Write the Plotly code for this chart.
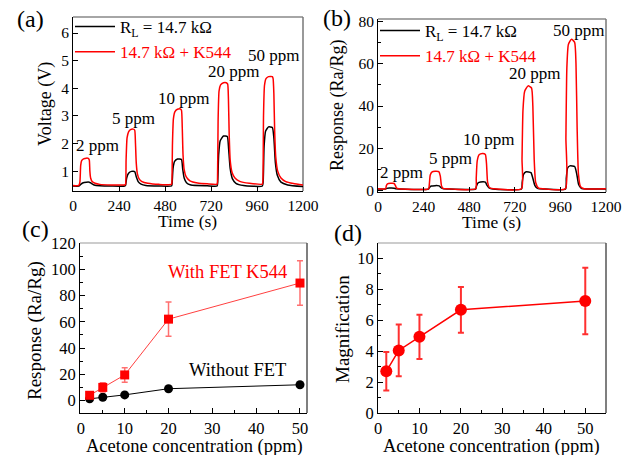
import plotly.graph_objects as go

FONT = "Liberation Serif, Times New Roman, serif"

# ---------------- Panel (a): voltage vs time ----------------
a_red_t = [0, 30, 36, 40, 45, 55, 70, 80, 85, 88, 92, 100, 115, 140, 200, 270,
           274, 277, 282, 290, 300, 315, 322, 326, 330, 336, 345, 360, 390, 450, 514,
           516, 519, 524, 532, 545, 560, 566, 570, 574, 580, 590, 610, 650, 700, 752,
           754, 757, 762, 770, 785, 800, 807, 811, 815, 820, 830, 845, 870, 920, 988,
           991, 994, 999, 1007, 1020, 1040, 1044, 1048, 1052, 1058, 1068, 1085, 1110, 1150, 1200]
a_red_v = [0.48, 0.48, 0.6, 1.2, 1.38, 1.44, 1.47, 1.46, 1.4, 1.0, 0.75, 0.62, 0.56, 0.52, 0.5, 0.5,
           0.52, 1.4, 2.2, 2.42, 2.5, 2.52, 2.48, 2.0, 1.3, 0.9, 0.72, 0.62, 0.56, 0.52, 0.52,
           0.6, 2.0, 2.9, 3.15, 3.24, 3.25, 3.2, 2.6, 1.6, 1.05, 0.8, 0.65, 0.57, 0.54, 0.53,
           0.7, 2.8, 3.9, 4.12, 4.2, 4.2, 4.15, 3.6, 2.3, 1.4, 0.95, 0.75, 0.63, 0.56, 0.53,
           0.7, 3.0, 4.1, 4.35, 4.42, 4.42, 4.35, 3.8, 2.5, 1.5, 1.0, 0.75, 0.62, 0.55, 0.5]
a_blk_t = [0, 30, 40, 50, 70, 85, 95, 110, 140, 270,
           274, 280, 290, 305, 322, 330, 340, 355, 380, 450, 514,
           517, 522, 530, 545, 566, 572, 580, 592, 615, 700, 752,
           755, 760, 768, 785, 805, 812, 820, 832, 850, 890, 988,
           992, 997, 1005, 1020, 1040, 1048, 1056, 1066, 1085, 1120, 1200]
a_blk_v = [0.46, 0.46, 0.52, 0.57, 0.6, 0.6, 0.56, 0.5, 0.47, 0.46,
           0.48, 0.75, 0.92, 0.99, 0.98, 0.8, 0.62, 0.53, 0.48, 0.46, 0.46,
           0.55, 1.1, 1.35, 1.44, 1.42, 1.1, 0.75, 0.58, 0.5, 0.47, 0.46,
           0.6, 1.6, 2.1, 2.27, 2.25, 1.8, 1.1, 0.72, 0.56, 0.48, 0.46,
           0.6, 1.9, 2.45, 2.6, 2.58, 2.2, 1.3, 0.85, 0.6, 0.5, 0.44]

# ---------------- Panel (b): response vs time ----------------
b_red_t = [0, 40, 44, 50, 65, 85, 92, 98, 110, 266,
           270, 275, 285, 300, 320, 328, 334, 342, 360, 514,
           517, 522, 532, 550, 565, 571, 577, 587, 610, 755,
           758, 763, 772, 790, 808, 815, 822, 830, 845, 870, 986,
           989, 994, 1002, 1018, 1035, 1042, 1048, 1055, 1066, 1085, 1200]
b_red_v = [1.0, 1.0, 2.5, 3.3, 3.6, 3.5, 2.5, 1.3, 1.0, 1.0,
           3.0, 7.5, 9.0, 9.3, 9.1, 7.0, 2.5, 1.2, 1.0, 1.0,
           6.0, 14.0, 17.0, 17.6, 17.2, 13.0, 4.0, 1.5, 1.0, 1.0,
           15.0, 38.0, 47.0, 49.5, 48.5, 40.0, 15.0, 4.0, 1.3, 1.0, 1.0,
           25.0, 58.0, 69.0, 71.5, 70.0, 60.0, 30.0, 8.0, 2.0, 1.0, 1.0]
b_blk_t = [0, 40, 46, 60, 85, 95, 110, 266,
           270, 280, 300, 322, 332, 345, 365, 514,
           518, 526, 540, 565, 574, 586, 605, 755,
           759, 766, 780, 805, 815, 826, 840, 870, 987,
           991, 998, 1010, 1035, 1046, 1056, 1070, 1100, 1200]
b_blk_v = [0.9, 0.9, 1.2, 1.35, 1.3, 1.0, 0.9, 0.9,
           1.5, 2.3, 2.5, 2.4, 1.5, 1.0, 0.9, 0.9,
           2.2, 3.7, 4.2, 4.1, 2.6, 1.3, 0.95, 0.9,
           4.0, 7.8, 9.0, 8.6, 6.0, 2.5, 1.2, 0.9, 0.9,
           6.0, 10.8, 11.8, 11.5, 8.0, 3.0, 1.2, 0.9, 0.9]

ppm_labels = ["2 ppm", "5 ppm", "10 ppm", "20 ppm", "50 ppm"]
a_lab_t = [126, 314, 576, 838, 1048]
a_lab_v = [1.94, 2.92, 3.64, 4.59, 5.2]
b_lab_t = [122, 379, 584, 826, 1053]
b_lab_v = [8.5, 15.5, 24, 55.5, 75.8]

# ---------------- Panel (c) & (d) ----------------
conc = [2, 5, 10, 20, 50]
resp_fet = [4.0, 10.0, 19.5, 62.0, 89.5]
resp_fet_err = [1.5, 3.5, 5.5, 13.0, 17.0]
resp_nofet = [1.3, 2.5, 4.3, 9.0, 12.0]
resp_nofet_err = [0.4, 0.5, 0.8, 1.0, 1.0]
magnif = [2.7, 4.05, 4.93, 6.68, 7.25]
magnif_err = [1.25, 1.68, 1.43, 1.48, 2.15]

RED = "#ff0000"
fig = go.Figure()

fig.add_trace(go.Scatter(x=a_blk_t, y=a_blk_v, mode="lines", name="R<sub>L</sub> = 14.7 kΩ",
                         line=dict(color="black", width=1.5, shape="spline", smoothing=0.5),
                         xaxis="x", yaxis="y", legend="legend"))
fig.add_trace(go.Scatter(x=a_red_t, y=a_red_v, mode="lines",
                         name="<span style='color:#ff0000'>14.7 kΩ + K544</span>",
                         line=dict(color=RED, width=1.5, shape="spline", smoothing=0.5),
                         xaxis="x", yaxis="y", legend="legend"))
fig.add_trace(go.Scatter(x=b_blk_t, y=b_blk_v, mode="lines", name="R<sub>L</sub> = 14.7 kΩ",
                         line=dict(color="black", width=1.5, shape="spline", smoothing=0.5),
                         xaxis="x2", yaxis="y2", legend="legend2"))
fig.add_trace(go.Scatter(x=b_red_t, y=b_red_v, mode="lines",
                         name="<span style='color:#ff0000'>14.7 kΩ + K544</span>",
                         line=dict(color=RED, width=1.5, shape="spline", smoothing=0.5),
                         xaxis="x2", yaxis="y2", legend="legend2"))

fig.add_trace(go.Scatter(x=conc, y=resp_nofet, mode="lines+markers", showlegend=False,
                         line=dict(color="black", width=1),
                         marker=dict(symbol="circle", size=9, color="black"),
                         error_y=dict(type="data", array=resp_nofet_err, color="black", thickness=1, width=3),
                         xaxis="x3", yaxis="y3"))
fig.add_trace(go.Scatter(x=conc, y=resp_fet, mode="lines+markers", showlegend=False,
                         line=dict(color="#ff4040", width=1),
                         marker=dict(symbol="square", size=9, color=RED),
                         error_y=dict(type="data", array=resp_fet_err, color="#ff7070", thickness=1.5, width=3),
                         xaxis="x3", yaxis="y3"))
fig.add_trace(go.Scatter(x=conc, y=magnif, mode="lines+markers", showlegend=False,
                         line=dict(color=RED, width=1.5),
                         marker=dict(symbol="circle", size=12, color=RED),
                         error_y=dict(type="data", array=magnif_err, color="#ff3030", thickness=2, width=3),
                         xaxis="x4", yaxis="y4"))

def ax(domain, rng, dtick, tsize, anchor, tickvals=None):
    d = dict(domain=domain, range=rng, showline=True, linecolor="black", linewidth=1,
             ticks="inside", ticklen=5, tickwidth=1, tickcolor="black",
             showgrid=False, zeroline=False, anchor=anchor, automargin=False,
             tickfont=dict(family=FONT, size=tsize, color="black"),
             minor=dict(ticks="inside", ticklen=3, tickcolor="black", nticks=2))
    if tickvals is not None:
        d["tickmode"] = "array"
        d["tickvals"] = tickvals
    else:
        d["dtick"] = dtick
        d["tick0"] = 0
    return d

W, H = 634, 455
def px(x0, x1):
    return [x0 / W, x1 / W]
def py(top, bottom):
    return [1 - bottom / H, 1 - top / H]

fig.update_layout(
    width=W, height=H, margin=dict(l=0, r=0, t=0, b=0, autoexpand=False),
    paper_bgcolor="white", plot_bgcolor="white",
    font=dict(family=FONT, color="black"),
    xaxis=ax(px(73, 303), [0, 1200], 240, 15.5, "y"),
    yaxis=ax(py(17, 191), [0.28, 6.58], 1, 15.5, "x", tickvals=[1, 2, 3, 4, 5, 6]),
    xaxis2=ax(px(378, 606), [0, 1200], 240, 15.5, "y2"),
    yaxis2=ax(py(19, 192), [-0.5, 81], 20, 15.5, "x2"),
    xaxis3=ax(px(80, 307), [-0.2, 51.6], 10, 16.5, "y3"),
    yaxis3=ax(py(243, 413), [-9.5, 120], 20, 16.5, "x3"),
    xaxis4=ax(px(378, 606), [0, 55], 10, 16.5, "y4"),
    yaxis4=ax(py(243, 413), [0, 11], 2, 16.5, "x4"),
    legend=dict(x=70 / W, y=1 - 9 / H, xanchor="left", yanchor="top", bgcolor="rgba(0,0,0,0)",
                font=dict(family=FONT, size=17, color="black"), tracegroupgap=0, itemwidth=40),
    legend2=dict(x=375 / W, y=1 - 13 / H, xanchor="left", yanchor="top", bgcolor="rgba(0,0,0,0)",
                 font=dict(family=FONT, size=17, color="black"), tracegroupgap=0, itemwidth=40),
)

# top/right frame lines
for xr, yr, topc, rightc in [("x", "y", "#888888", "#777777"), ("x2", "y2", "#888888", "#777777"),
                              ("x3", "y3", "#bbbbbb", "#555555"), ("x4", "y4", "#bbbbbb", "#555555")]:
    fig.add_shape(type="line", xref=f"{xr} domain", yref=f"{yr} domain", x0=0, x1=1, y0=1, y1=1,
                  line=dict(color=topc, width=1.5), layer="below")
    fig.add_shape(type="line", xref=f"{xr} domain", yref=f"{yr} domain", x0=1, x1=1, y0=0, y1=1,
                  line=dict(color=rightc, width=1.5), layer="below")

for lab, t, v in zip(ppm_labels, a_lab_t, a_lab_v):
    fig.add_annotation(x=t, y=v, xref="x", yref="y", text=lab, showarrow=False,
                       font=dict(family=FONT, size=17, color="black"))
for lab, t, v in zip(ppm_labels, b_lab_t, b_lab_v):
    fig.add_annotation(x=t, y=v, xref="x2", yref="y2", text=lab, showarrow=False,
                       font=dict(family=FONT, size=17, color="black"))

fig.add_annotation(x=33.5, y=98, xref="x3", yref="y3", text="With FET K544", showarrow=False,
                   font=dict(family=FONT, size=18.5, color=RED))
fig.add_annotation(x=35.7, y=23, xref="x3", yref="y3", text="Without FET", showarrow=False,
                   font=dict(family=FONT, size=18.5, color="black"))

# axis titles (placed as paper annotations for exact positioning)
axis_titles = [("Time (s)", 187, 221, 0, 17.5), ("Voltage (V)", 46, 104, -90, 18),
               ("Time (s)", 492, 222, 0, 17.5), ("Response (Ra/Rg)", 337, 106, -90, 18),
               ("Response (Ra/Rg)", 35, 331, -90, 19), ("Acetone concentration (ppm)", 194, 446, 0, 18.5),
               ("Magnification", 342, 329, -90, 19), ("Acetone concentration (ppm)", 492, 446, 0, 18.5)]
for txt, xp, yp, ang, fs in axis_titles:
    fig.add_annotation(x=xp / W, y=1 - yp / H, xref="paper", yref="paper", text=txt, showarrow=False,
                       xanchor="center", yanchor="middle", textangle=ang,
                       font=dict(family=FONT, size=fs, color="black"))

for lab, xp, yp in [("(a)", 30, 19), ("(b)", 337, 18), ("(c)", 35, 229), ("(d)", 348, 233)]:
    fig.add_annotation(x=xp / W, y=1 - yp / H, xref="paper", yref="paper", text=lab, showarrow=False,
                       xanchor="center", yanchor="middle",
                       font=dict(family=FONT, size=24, color="black"))

fig.write_html("out.html", config={"displayModeBar": False},
               post_script="document.body.style.margin='0';document.body.style.padding='0';")
